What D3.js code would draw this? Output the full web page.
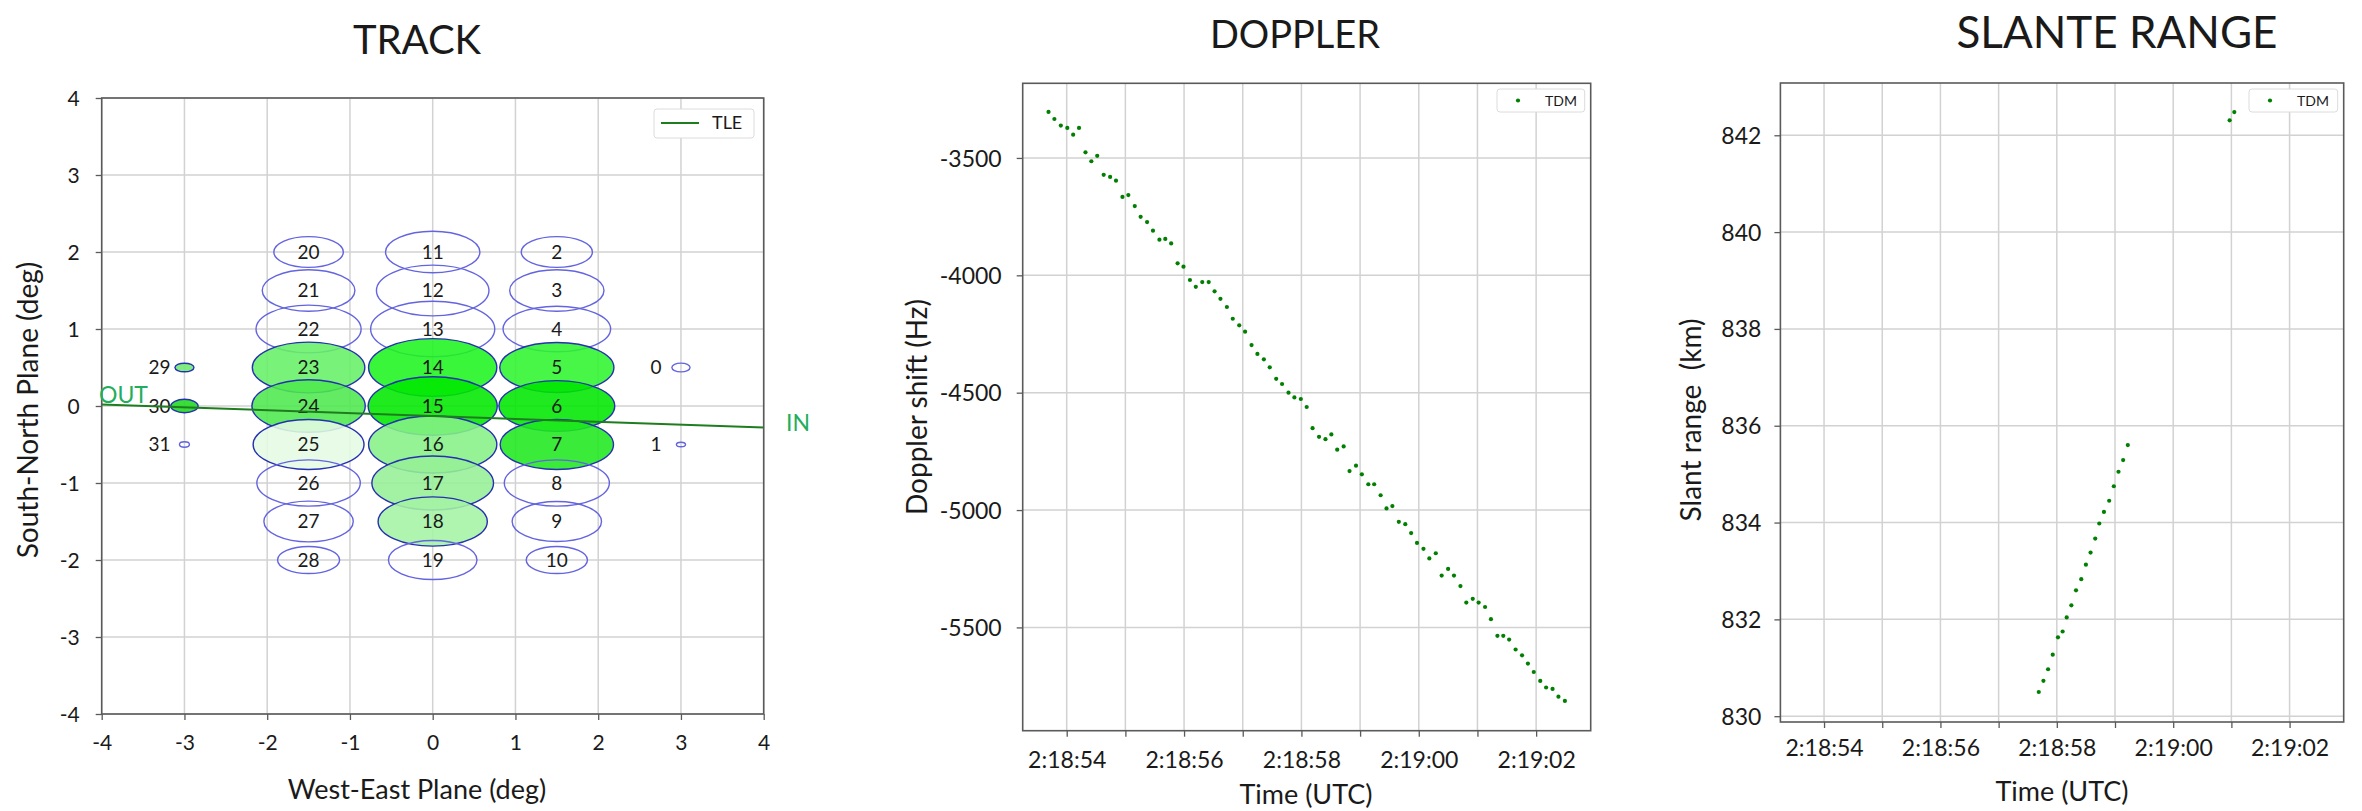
<!DOCTYPE html>
<html lang="en">
<head>
<meta charset="utf-8">
<title>Track - Doppler - Slant range</title>
<script src="https://cdn.jsdelivr.net/npm/d3@7"></script>
<style>
  body { margin: 0; background: #fff; }
  text { font-family: Lato, "Open Sans", sans-serif; fill: #1a1a1a; }
</style>
</head>
<body>
<script>

//Track: beam ellipses (deg)
var beamId = [0, 1, 2, 3, 4, 5, 6, 7, 8, 9, 10, 11, 12, 13, 14, 15, 16, 17, 18, 19,
              20, 21, 22, 23, 24, 25, 26, 27, 28, 29, 30, 31];
var beamX = [3, 3, 1.5, 1.5, 1.5, 1.5, 1.5, 1.5, 1.5, 1.5, 1.5, 0, 0, 0, 0, 0, 0, 0, 0, 0,
             -1.5, -1.5, -1.5, -1.5, -1.5, -1.5, -1.5, -1.5, -1.5, -3, -3, -3];
var beamY = [0.5, -0.5, 2, 1.5, 1, 0.5, 0, -0.5, -1, -1.5, -2, 2, 1.5, 1, 0.5, 0, -0.5, -1, -1.5, -2,
             2, 1.5, 1, 0.5, 0, -0.5, -1, -1.5, -2, 0.5, 0, -0.5];
var beamRx = [0.11, 0.055, 0.43, 0.57, 0.65, 0.69, 0.70, 0.685, 0.635, 0.54, 0.37,
              0.57, 0.68, 0.75, 0.775, 0.78, 0.775, 0.735, 0.66, 0.535,
              0.42, 0.56, 0.635, 0.68, 0.685, 0.67, 0.625, 0.54, 0.375, 0.115, 0.165, 0.06];
var beamRy = [0.057, 0.03, 0.2, 0.27, 0.295, 0.325, 0.33, 0.325, 0.30, 0.26, 0.175,
              0.27, 0.33, 0.36, 0.375, 0.38, 0.37, 0.35, 0.32, 0.254,
              0.2, 0.27, 0.31, 0.33, 0.34, 0.325, 0.30, 0.265, 0.175, 0.056, 0.087, 0.035];
var beamFill = ["none", "none", "none", "none", "none", "#2ef52e", "#00e600", "#1fe81f", "none", "none", "none",
                "none", "none", "none", "#1ff51f", "#00e800", "#86f086", "#96f096", "#a4f3a4", "none",
                "none", "none", "none", "#66f066", "#4fe84f", "#e4fbe4", "none", "none", "none",
                "#70ea70", "#1fd81f", "none"];

//Track: TLE ground track
var tleX = [-4, 4];
var tleY = [0.02, -0.28];

//Doppler (seconds after 2:18:00 UTC, Hz)
var dopTime = [53.69, 53.79, 53.90, 54.01, 54.11, 54.21, 54.32, 54.42, 54.52, 54.63,
               54.74, 54.84, 54.95, 55.05, 55.16, 55.26, 55.37, 55.47, 55.58, 55.68,
               55.78, 55.89, 55.99, 56.10, 56.20, 56.31, 56.42, 56.52, 56.62, 56.73,
               56.83, 56.94, 57.04, 57.15, 57.25, 57.36, 57.46, 57.57, 57.67, 57.78,
               57.88, 57.99, 58.09, 58.19, 58.30, 58.41, 58.51, 58.61, 58.72, 58.82,
               58.93, 59.03, 59.14, 59.24, 59.35, 59.45, 59.55, 59.66, 59.77, 59.87,
               59.97, 60.08, 60.18, 60.29, 60.39, 60.50, 60.60, 60.71, 60.81, 60.92,
               61.02, 61.13, 61.23, 61.34, 61.44, 61.54, 61.65, 61.76, 61.86, 61.96,
               62.07, 62.17, 62.28, 62.38, 62.49];
var dopShift = [-3304, -3334, -3362, -3372, -3401, -3372, -3476, -3514, -3491, -3572,
                -3581, -3597, -3666, -3658, -3705, -3751, -3773, -3810, -3848, -3845,
                -3864, -3949, -3963, -4020, -4049, -4029, -4029, -4068, -4100, -4135,
                -4185, -4213, -4240, -4297, -4335, -4358, -4392, -4441, -4463, -4500,
                -4520, -4527, -4561, -4651, -4688, -4698, -4678, -4743, -4729, -4834,
                -4811, -4848, -4890, -4890, -4937, -4993, -4983, -5050, -5060, -5098,
                -5140, -5165, -5206, -5184, -5279, -5251, -5279, -5324, -5394, -5378,
                -5394, -5413, -5465, -5536, -5536, -5552, -5594, -5619, -5654, -5690,
                -5728, -5756, -5762, -5795, -5813];

//Slant range (seconds after 2:18:00 UTC, km)
var rngTime = [57.69, 57.77, 57.85, 57.93, 58.02, 58.10, 58.17, 58.25, 58.33, 58.42,
               58.50, 58.58, 58.66, 58.73, 58.81, 58.90, 58.98, 59.06, 59.14, 59.22,
               60.97, 61.05];
var rngKm = [830.50, 830.73, 830.97, 831.27, 831.63, 831.75, 832.04, 832.29, 832.60, 832.83,
             833.13, 833.38, 833.67, 833.98, 834.22, 834.45, 834.75, 835.05, 835.29, 835.60,
             842.31, 842.48];

//Tick values
var trackTicks = [-4, -3, -2, -1, 0, 1, 2, 3, 4];
var dopTicks = [-3500, -4000, -4500, -5000, -5500];
var rngTicks = [830, 832, 834, 836, 838, 840, 842];

//Time helper
var t0 = Date.UTC(2020, 0, 1, 2, 18, 0);
var toDate = function(s) { return new Date(t0 + s * 1000); };
var formatTime = d3.utcFormat("%-H:%M:%S");
var secTicks = d3.utcSecond.range(toDate(54), toDate(62.5));

var w = 2362, h = 811;
var svg = d3.select("body").append("svg").attr("width", w).attr("height", h);

var gridColor = "#d2d2d2";
var frameColor = "#5a5a5a";

//Draws the grid, the frame and the ticks of one panel
function panel(x, y, xTicks, yTicks, xFmt, yFmt, o) {
    var x0 = x.range()[0], x1 = x.range()[1];
    var y0 = y.range()[1], y1 = y.range()[0];
    var g = svg.append("g");

    g.selectAll(".vg").data(xTicks).enter().append("line")
        .attr("x1", function(d) { return x(d); }).attr("x2", function(d) { return x(d); })
        .attr("y1", y0).attr("y2", y1)
        .attr("stroke", gridColor).attr("stroke-width", 1.5);
    g.selectAll(".hg").data(yTicks).enter().append("line")
        .attr("x1", x0).attr("x2", x1)
        .attr("y1", function(d) { return y(d); }).attr("y2", function(d) { return y(d); })
        .attr("stroke", gridColor).attr("stroke-width", 1.5);

    var ax = svg.append("g").attr("transform", "translate(0," + y1 + ")")
        .call(d3.axisBottom(x).tickValues(xTicks).tickSize(6).tickFormat(xFmt));
    ax.select(".domain").remove();
    ax.selectAll("line").attr("stroke", frameColor).attr("stroke-width", 1.3);
    ax.selectAll("text").attr("y", o.xLab).attr("dy", "0.35em")
        .attr("font-size", o.fs + "px").attr("fill", "#1a1a1a");

    var ay = svg.append("g").attr("transform", "translate(" + x0 + ",0)")
        .call(d3.axisLeft(y).tickValues(yTicks).tickSize(6).tickFormat(yFmt));
    ay.select(".domain").remove();
    ay.selectAll("line").attr("stroke", frameColor).attr("stroke-width", 1.3);
    ay.selectAll("text").attr("x", -o.yLab).attr("dy", "0.35em")
        .attr("font-size", o.fs + "px").attr("fill", "#1a1a1a");

    svg.append("rect")
        .attr("x", x0).attr("y", y0).attr("width", x1 - x0).attr("height", y1 - y0)
        .attr("fill", "none").attr("stroke", frameColor).attr("stroke-width", 1.6);
    return g;
}

var plainNum = function(d) { return String(d); };
var evenSec = function(d) { return d.getUTCSeconds() % 2 === 0 ? formatTime(d) : ""; };

//TRACK
var xT = d3.scaleLinear().domain([-4, 4]).range([101.7, 763.7]);
var yT = d3.scaleLinear().domain([-4, 4]).range([714, 98]);
var gT = panel(xT, yT, trackTicks, trackTicks, plainNum, plainNum, { xLab: 29, yLab: 22, fs: 21 });

var beams = beamId.map(function(d, i) {
    return { id: d, x: beamX[i], y: beamY[i], rx: beamRx[i], ry: beamRy[i], fill: beamFill[i] };
});
var kx = xT(1) - xT(0), ky = yT(0) - yT(1);

gT.selectAll("ellipse").data(beams).enter().append("ellipse")
    .attr("cx", function(d) { return xT(d.x); })
    .attr("cy", function(d) { return yT(d.y); })
    .attr("rx", function(d) { return d.rx * kx; })
    .attr("ry", function(d) { return d.ry * ky; })
    .attr("fill", function(d) { return d.fill; })
    .attr("fill-opacity", 0.88)
    .attr("stroke", function(d) { return d.fill === "none" ? "#6464e0" : "#2630b0"; })
    .attr("stroke-width", 1.4);

gT.selectAll(".beamlab").data(beams).enter().append("text")
    .attr("x", function(d) { return xT(d.x) - (d.rx < 0.2 ? 25 : 0); })
    .attr("y", function(d) { return yT(d.y); })
    .attr("dy", "0.36em")
    .attr("text-anchor", "middle")
    .attr("font-size", "19px")
    .text(function(d) { return d.id; });

gT.append("path")
    .datum(tleX.map(function(d, i) { return [d, tleY[i]]; }))
    .attr("d", d3.line().x(function(d) { return xT(d[0]); }).y(function(d) { return yT(d[1]); }))
    .attr("fill", "none").attr("stroke", "#1e7d1e").attr("stroke-width", 2);

svg.append("text").attr("x", 99).attr("y", yT(0.02) - 1)
    .attr("font-size", "23px").style("fill", "#22ad5c").text("OUT");
svg.append("text").attr("x", 786).attr("y", 431)
    .attr("font-size", "23px").style("fill", "#22ad5c").text("IN");

//TLE legend
svg.append("rect").attr("x", 654).attr("y", 109).attr("width", 100).attr("height", 29)
    .attr("rx", 3).attr("fill", "#fff").attr("stroke", "#dcdcdc");
svg.append("line").attr("x1", 661).attr("x2", 699).attr("y1", 123).attr("y2", 123)
    .attr("stroke", "#1e7d1e").attr("stroke-width", 2);
svg.append("text").attr("x", 712).attr("y", 123).attr("dy", "0.36em")
    .attr("font-size", "18px").text("TLE");

svg.append("text").attr("x", 417).attr("y", 54).attr("text-anchor", "middle")
    .attr("font-size", "40px").text("TRACK");
svg.append("text").attr("x", 417).attr("y", 790).attr("dy", "0.35em").attr("text-anchor", "middle")
    .attr("font-size", "27px").text("West-East Plane (deg)");
svg.append("text").attr("transform", "translate(28,410) rotate(-90)").attr("dy", "0.35em")
    .attr("text-anchor", "middle").attr("font-size", "28px").text("South-North Plane (deg)");

//DOPPLER
var xD = d3.scaleUtc().domain([toDate(53.25), toDate(62.93)]).range([1022.7, 1590.7]);
var yD = d3.scaleLinear().domain([-5940, -3182]).range([730.7, 83.3]);
var gD = panel(xD, yD, secTicks, dopTicks, evenSec, plainNum, { xLab: 29, yLab: 21, fs: 23 });

gD.selectAll("circle").data(dopTime).enter().append("circle")
    .attr("cx", function(d) { return xD(toDate(d)); })
    .attr("cy", function(d, i) { return yD(dopShift[i]); })
    .attr("r", 2.1).attr("fill", "#007f00");

svg.append("text").attr("x", 1295).attr("y", 48).attr("text-anchor", "middle")
    .attr("font-size", "38px").text("DOPPLER");
svg.append("text").attr("x", 1306).attr("y", 795).attr("dy", "0.35em").attr("text-anchor", "middle")
    .attr("font-size", "27px").text("Time (UTC)");
svg.append("text").attr("transform", "translate(917,407) rotate(-90)").attr("dy", "0.35em")
    .attr("text-anchor", "middle").attr("font-size", "28px").text("Doppler shift (Hz)");

//SLANT RANGE
var xS = d3.scaleUtc().domain([toDate(53.25), toDate(62.93)]).range([1780.4, 2343.7]);
var yS = d3.scaleLinear().domain([829.88, 843.08]).range([722, 83]);
var gS = panel(xS, yS, secTicks, rngTicks, evenSec, plainNum, { xLab: 26, yLab: 19, fs: 23 });

gS.selectAll("circle").data(rngTime).enter().append("circle")
    .attr("cx", function(d) { return xS(toDate(d)); })
    .attr("cy", function(d, i) { return yS(rngKm[i]); })
    .attr("r", 2.1).attr("fill", "#007f00");

svg.append("text").attr("x", 2117).attr("y", 48).attr("text-anchor", "middle")
    .attr("font-size", "44px").text("SLANTE RANGE");
svg.append("text").attr("x", 2062).attr("y", 792).attr("dy", "0.35em").attr("text-anchor", "middle")
    .attr("font-size", "27px").text("Time (UTC)");
svg.append("text").attr("transform", "translate(1691,420) rotate(-90)").attr("dy", "0.35em")
    .attr("text-anchor", "middle").attr("font-size", "28px")
    .attr("xml:space", "preserve").style("white-space", "pre").text("Slant range  (km)");

//TDM legends
[[1497, 1590.7], [2249, 2343.7]].forEach(function(p) {
    svg.append("rect").attr("x", p[0]).attr("y", 89).attr("width", p[1] - 6 - p[0]).attr("height", 23)
        .attr("rx", 3).attr("fill", "#fff").attr("stroke", "#dcdcdc");
    svg.append("circle").attr("cx", p[0] + 21).attr("cy", 100.5).attr("r", 2.1).attr("fill", "#007f00");
    svg.append("text").attr("x", p[0] + 48).attr("y", 100.5).attr("dy", "0.36em")
        .attr("font-size", "14px").text("TDM");
});

</script>
</body>
</html>
